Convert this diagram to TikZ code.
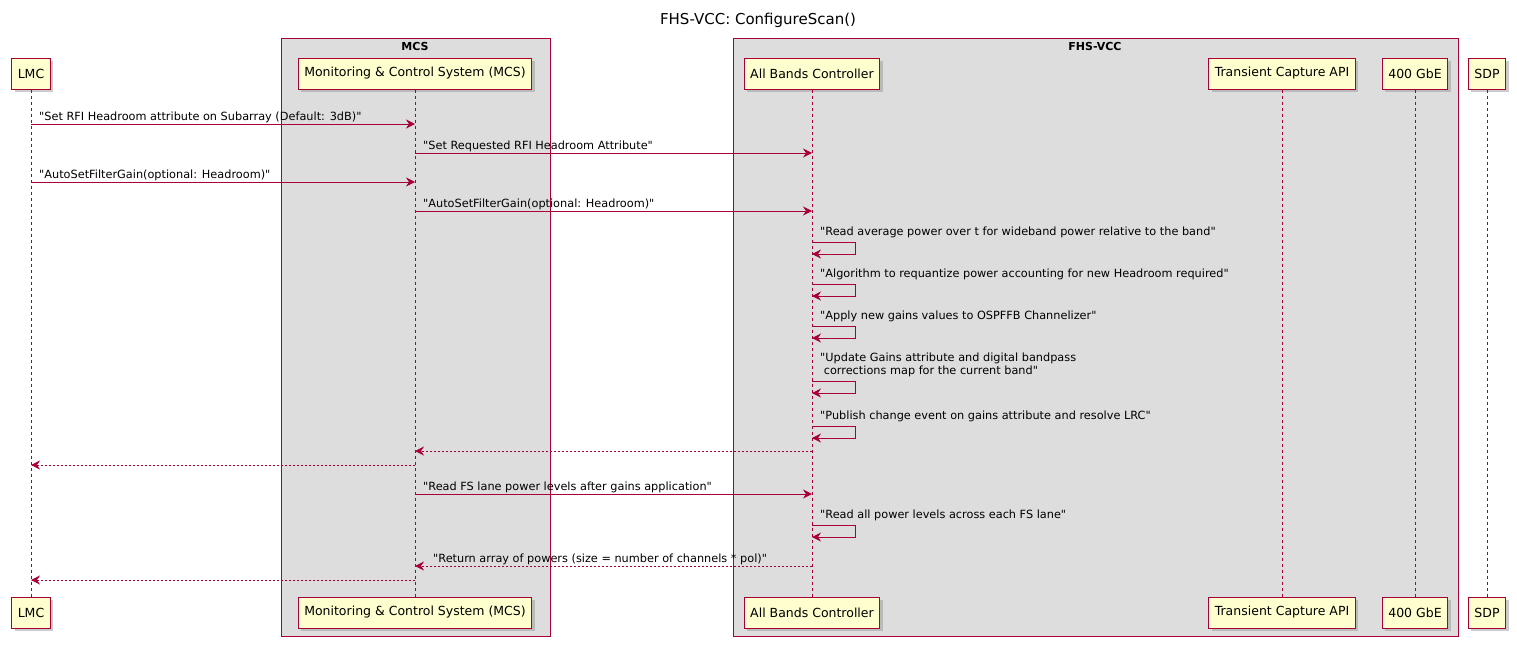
\documentclass[tikz,border=0pt]{standalone}
\usepackage{fontspec}
\setmainfont{DejaVu Sans}[Ligatures=TeXOff]
\usetikzlibrary{arrows.meta,shadows}
\definecolor{pb}{HTML}{A80036}
\definecolor{pf}{HTML}{FEFECE}
\definecolor{gf}{HTML}{DDDDDD}
\tikzset{x=1pt,y=-1pt,
 part/.style={draw=pb,fill=pf,line width=1pt,minimum height=31pt,inner xsep=6pt,font=\fontsize{12.5}{14}\selectfont,drop shadow={shadow xshift=3pt,shadow yshift=-3pt,fill=gray!80}},
 grp/.style={draw=pb,fill=gf,line width=0.8pt},
 life/.style={draw=pb,dashed,line width=0.7pt},
 msg/.style={draw=pb,line width=0.8pt,-{Stealth[length=9pt,width=9pt,inset=3pt]}},
 ret/.style={msg,dash pattern=on 2pt off 2pt},
 lbl/.style={anchor=base west,inner sep=0pt,font=\fontsize{11.3}{14}\selectfont}}
\newcommand{\selfmsg}[3]{% name y label
 \coordinate (#1a) at (812,#2+11);
 \node[lbl] at (820,#2+4) {#3};
 \draw[msg] (#1a) -- ++(43,0) -- ++(0,12) -- ++(-43,0);}
\begin{document}
\begin{tikzpicture}
\useasboundingbox (0,0) rectangle (1517,646);
\node[font=\fontsize{15}{18}\selectfont] (title) at (758,20) {FHS-VCC: ConfigureScan()};
\node[grp,minimum width=269pt,minimum height=598pt,anchor=north west] (gM) at (281,38) {};
\node[grp,minimum width=725pt,minimum height=598pt,anchor=north west] (gF) at (733,38) {};
\node[font=\bfseries\fontsize{11}{13}\selectfont] (gMt) at (415,46) {MCS};
\node[font=\bfseries\fontsize{11}{13}\selectfont] (gFt) at (1095,46) {FHS-VCC};
\foreach \n/\x/\t in {lmc/31/LMC, mcs/415/Monitoring \& Control System (MCS), abc/812/All Bands Controller, tca/1282/Transient Capture API, gbe/1415/400 GbE, sdp/1487/SDP}{
 \node[part] (\n T) at (\x,73.5) {\t};
 \node[part] (\n B) at (\x,612.5) {\t};
 \draw[life] (\n T) -- (\n B);
}
% messages
\foreach \y/\a/\b/\t in {124/lmc/mcs/{"Set RFI Headroom attribute on Subarray (Default: 3dB)"},
 153/mcs/abc/{"Set Requested RFI Headroom Attribute"},
 182/lmc/mcs/{"AutoSetFilterGain(optional: Headroom)"},
 211/mcs/abc/{"AutoSetFilterGain(optional: Headroom)"},
 494/mcs/abc/{"Read FS lane power levels after gains application"}}{
 \coordinate (s) at (\a T |- 0,\y); \coordinate (e) at (\b T |- 0,\y);
 \node[lbl] at ([xshift=8pt,yshift=4pt]s) {\t};
 \draw[msg] (s) -- (e);
}
\selfmsg{s1}{231}{"Read average power over t for wideband power relative to the band"}
\selfmsg{s2}{273}{"Algorithm to requantize power accounting for new Headroom required"}
\selfmsg{s3}{315}{"Apply new gains values to OSPFFB Channelizer"}
\node[lbl] at (820,361) {"Update Gains attribute and digital bandpass};
\selfmsg{s4}{370}{\ corrections map for the current band"}
\selfmsg{s5}{415}{"Publish change event on gains attribute and resolve LRC"}
\selfmsg{s6}{514}{"Read all power levels across each FS lane"}
\coordinate (r1s) at (abcT |- 0,451); \coordinate (r1e) at (mcsT |- 0,451);
\draw[ret] (r1s) -- (r1e);
\coordinate (r2s) at (mcsT |- 0,465); \coordinate (r2e) at (lmcT |- 0,465);
\draw[ret] (r2s) -- (r2e);
\coordinate (r3s) at (abcT |- 0,566); \coordinate (r3e) at (mcsT |- 0,566);
\node[lbl] at (433,562) {"Return array of powers (size = number of channels * pol)"};
\draw[ret] (r3s) -- (r3e);
\coordinate (r4s) at (mcsT |- 0,580); \coordinate (r4e) at (lmcT |- 0,580);
\draw[ret] (r4s) -- (r4e);
\end{tikzpicture}
\end{document}
